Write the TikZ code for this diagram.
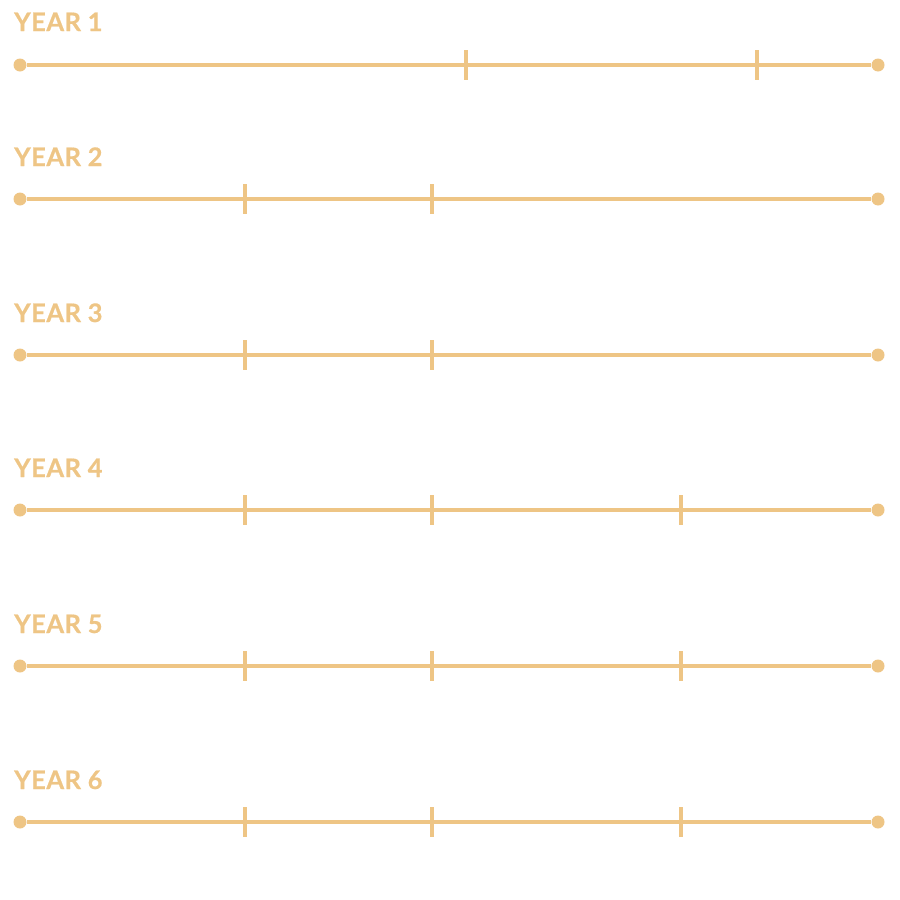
\documentclass[tikz,border=0pt]{standalone}
\usepackage{fontspec}
\setmainfont{Lato}[BoldFeatures={FakeBold=0.6,LetterSpace=2}]
\usepackage{tikz}
\usetikzlibrary{positioning}
\definecolor{sand}{HTML}{EEC585}

\begin{document}
\begin{tikzpicture}[
  x=1pt,y=-1pt,
  yearlabel/.style={anchor=base west, inner sep=0pt, text=sand, font=\fontsize{25.5}{30}\selectfont\bfseries},
  dot/.style={circle, fill=sand, inner sep=0pt, minimum size=13pt},
  track/.style={draw=sand, line width=3.4pt},
  tick/.style={draw=sand, line width=3.4pt}
]
\useasboundingbox (0,0) rectangle (900,900);
% year 1
\node[yearlabel] (y1) at (14,31) {YEAR 1};
\node[dot] (s1) at (20,65) {};
\node[dot] (e1) at (878,65) {};
\draw[track] (s1) -- (e1);
\draw[tick] (466,50) -- (466,80);
\draw[tick] (757,50) -- (757,80);
% year 2
\node[yearlabel] (y2) at (14,166) {YEAR 2};
\node[dot] (s2) at (20,199) {};
\node[dot] (e2) at (878,199) {};
\draw[track] (s2) -- (e2);
\draw[tick] (245,184) -- (245,214);
\draw[tick] (432,184) -- (432,214);
% year 3
\node[yearlabel] (y3) at (14,322) {YEAR 3};
\node[dot] (s3) at (20,355) {};
\node[dot] (e3) at (878,355) {};
\draw[track] (s3) -- (e3);
\draw[tick] (245,340) -- (245,370);
\draw[tick] (432,340) -- (432,370);
% year 4
\node[yearlabel] (y4) at (14,477) {YEAR 4};
\node[dot] (s4) at (20,510) {};
\node[dot] (e4) at (878,510) {};
\draw[track] (s4) -- (e4);
\draw[tick] (245,495) -- (245,525);
\draw[tick] (432,495) -- (432,525);
\draw[tick] (681,495) -- (681,525);
% year 5
\node[yearlabel] (y5) at (14,633) {YEAR 5};
\node[dot] (s5) at (20,666) {};
\node[dot] (e5) at (878,666) {};
\draw[track] (s5) -- (e5);
\draw[tick] (245,651) -- (245,681);
\draw[tick] (432,651) -- (432,681);
\draw[tick] (681,651) -- (681,681);
% year 6
\node[yearlabel] (y6) at (14,789) {YEAR 6};
\node[dot] (s6) at (20,822) {};
\node[dot] (e6) at (878,822) {};
\draw[track] (s6) -- (e6);
\draw[tick] (245,807) -- (245,837);
\draw[tick] (432,807) -- (432,837);
\draw[tick] (681,807) -- (681,837);
\end{tikzpicture}
\end{document}
